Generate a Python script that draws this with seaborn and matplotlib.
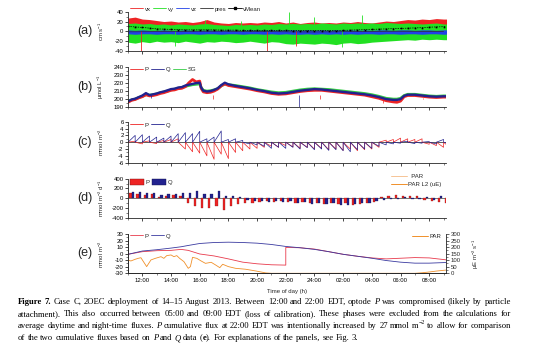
import re
import numpy as np
import matplotlib
matplotlib.use("Agg")
import matplotlib.pyplot as plt
import seaborn as sns
from matplotlib.lines import Line2D
from matplotlib.patches import Patch
from matplotlib.ticker import MultipleLocator, FixedLocator, FixedFormatter

sns.set_theme(style="ticks")
plt.rcParams["font.family"] = ["Liberation Sans", "DejaVu Sans"]
plt.rcParams["mathtext.fontset"] = "custom"
plt.rcParams["mathtext.rm"] = "Liberation Sans"
plt.rcParams["mathtext.it"] = "Liberation Sans:italic"
plt.rcParams["mathtext.bf"] = "Liberation Sans:bold"
plt.rcParams["axes.unicode_minus"] = False
plt.rcParams["axes.linewidth"] = 0.6

# ---------------- data ----------------
time_ticks = [12, 14, 16, 18, 20, 22, 24, 26, 28, 30, 32]
time_labels = ["12:00", "14:00", "16:00", "18:00", "20:00", "22:00",
               "24:00", "02:00", "04:00", "06:00", "08:00"]

# (a) velocity envelopes, half-hourly from 11:00
ta = np.arange(11.0, 33.51, 0.5)
vx_hi = [27, 29, 25, 24, 22, 20, 21, 19, 20, 18, 20, 24, 19, 17, 16, 18, 17, 18, 17, 19,
         18, 20, 17, 19, 16, 18, 19, 17, 18, 17, 19, 18, 20, 18, 17, 19, 21, 20, 22, 24,
         23, 25, 24, 26, 25, 25]
vy_hi = [16, 17, 15, 16, 14, 15, 13, 15, 14, 13, 15, 16, 14, 13, 12, 14, 13, 14, 13, 15,
         14, 16, 15, 16, 15, 16, 15, 17, 16, 15, 17, 16, 17, 16, 17, 16, 18, 17, 16, 17,
         16, 15, 16, 17, 15, 15]
vy_lo = [-22, -24, -21, -23, -20, -22, -21, -23, -20, -22, -24, -21, -22, -20, -21, -23,
         -22, -20, -22, -24, -21, -22, -25, -26, -24, -25, -26, -24, -25, -27, -24, -23,
         -25, -24, -22, -21, -20, -19, -18, -17, -18, -16, -17, -16, -17, -17]
vz_hi = [3, 2, 3, 2, 2, 3, 2, 2, 3, 2, 2, 3, 2, 2, 3, 2, 2, 3, 2, 2, 3, 2, 3, 3, 2, 3,
         2, 3, 2, 3, 2, 3, 2, 3, 2, 3, 3, 2, 3, 3, 2, 3, 3, 2, 3, 3]
vz_lo = [-5, -6, -5, -5, -6, -5, -5, -6, -5, -5, -6, -5, -5, -6, -5, -5, -6, -5, -5, -6,
         -5, -6, -5, -6, -6, -5, -6, -5, -6, -5, -6, -5, -6, -5, -5, -6, -5, -5, -6, -5,
         -5, -6, -5, -5, -6, -5]
vmean = [10, 9, 8, 6.5, 5, 4.5, 4, 3.5, 3, 3, 3, 3, 3, 2.5, 2.5, 2.5, 2, 2, 2, 2, 2, 2,
         2, 1.5, 1.5, 1.5, 1.5, 1.5, 1.5, 1.5, 2, 2.5, 3, 3.5, 4, 4.5, 5, 5.5, 6, 6.5, 7,
         7.5, 8.5, 9, 9.5, 10]
t_pres = np.arange(11.0, 33.1, 1.0)
pres = [-1, -0.8, -0.5, -0.2, 0, 0.2, 0.3, 0.2, 0, -0.3, -0.6, -0.9, -1.1, -1.2, -1,
        -0.7, -0.4, -0.1, 0.1, 0.2, 0.1, -0.2, -0.5]
vy_spike_t = [16.4, 18.9, 22.2, 24.0, 27.3, 14.3, 25.9]
vy_spike_v = [24, 22, 40, 30, 33, -30, -32]
vx_spike_t = [11.9, 20.7, 22.7]
vx_spike_v = [-40, -40, -30]

# (b) oxygen concentration
tb = [11.0, 11.25, 11.5, 11.75, 12.0, 12.25, 12.5, 12.75, 13.0, 13.25,
      13.5, 13.75, 14.0, 14.25, 14.5, 14.75, 15.0, 15.25, 15.5, 15.75,
      16.0, 16.1, 16.25, 16.5, 16.75, 17.0, 17.25, 17.5, 17.75, 18.0,
      18.5, 19.0, 19.5, 20.0, 20.5, 21.0, 21.5, 22.0, 22.5, 23.0,
      23.5, 24.0, 24.5, 25.0, 25.5, 26.0, 26.5, 27.0, 27.5, 28.0,
      28.5, 29.0, 29.5, 29.75, 30.0, 30.25, 30.5, 31.0, 31.5, 32.0,
      32.5, 33.0, 33.5]
Qb = [196.5, 199, 200, 202, 204, 207, 204.5, 205.5, 206.5, 208,
      209, 210.5, 212, 212.5, 214, 214.5, 216.5, 217.5, 218.5, 219.5,
      220, 214, 210, 209, 209.5, 211, 213, 217, 220, 218,
      216, 214.5, 213, 211, 209.5, 207.5, 206.5, 207, 208.5, 210,
      211, 212, 211.5, 210.5, 209.5, 208.5, 207.5, 206.5, 205.5, 204,
      202, 199.5, 198.5, 198.5, 199.5, 203.5, 205, 205, 204, 203,
      202.5, 203, 203]
Pb = [195.5, 198, 199, 201, 202.5, 205, 203.5, 204, 205, 206.5,
      207.5, 209, 210.5, 211, 212.5, 213, 215, 220, 224, 221,
      222, 213, 208.5, 207.5, 208, 209.5, 212, 216, 218.5, 216.5,
      215, 213.5, 212, 210, 208.5, 206.5, 205.5, 206, 207.5, 209,
      210, 210.5, 210.5, 209.5, 208.5, 207.5, 206.5, 205.5, 204.5, 202.5,
      200.5, 197.5, 196, 195.5, 197, 202.5, 204, 204, 203, 202,
      201.5, 202, 202]
SGb = [197, 198.5, 199.5, 201.5, 203, 205, 204.5, 205, 206, 207.5,
       208.5, 209.5, 211, 212, 213, 214, 215.5, 216.5, 217.5, 218,
       218.5, 214, 210.5, 209.5, 210, 211, 212.5, 216, 218.5, 217.5,
       216.5, 215, 213.5, 211.5, 210, 208.5, 207.5, 208, 209.5, 211,
       212, 212.5, 212, 211.5, 210.5, 209.5, 208.5, 207.5, 206.5, 205,
       203, 200.5, 199.5, 199.5, 200.5, 204, 205.5, 205.5, 204.5, 203.5,
       203, 203.5, 203.5]
Pb_spike_t = [16.9, 24.4, 28.8, 31.6, 32.2]
Pb_spike_v = [205, 205, 195, 201, 200]
Qb_spike_t = [22.9, 12.6]
Qb_spike_v = [190, 201]

# (c) flux increments per half-hour interval, (d) flux rates
tc = np.arange(11.0, 33.01, 0.5)
Qc = [2.0, 2.2, 1.8, 1.5, 1.2, 1.8, 2.5, 2.8, 2.5, 3.2,
      1.0, 1.5, 3.3, 0.8, 1.0, 0.5, -0.5, -0.8, -1.2, -1.8,
      -1.5, -1.8, -1.5, -2.0, -1.6, -2.2, -2.0, -2.4, -2.2, -2.5,
      -2.8, -2.2, -2.0, -1.8, -1.2, -0.8, -0.5, -0.3, 0.3, -0.4,
      -0.3, 0.2, -0.5, 0.8, -0.5]
Pc = [0.3, -0.5, 0.4, -0.4, 0.5, 0.8, 1.0, -2.0, -2.8, -3.2,
      -4.0, -5.0, -3.5, -4.8, -3.0, -2.5, -2.0, -1.8, -1.5, -1.2,
      -1.5, -1.0, -1.4, -1.8, -1.5, -2.0, -1.8, -2.2, -2.0, -2.4,
      -2.0, -2.5, -2.2, -2.0, -1.5, 0.6, 0.8, 1.2, 1.0, 0.8,
      1.0, -0.6, -1.0, -1.5, -1.8]
Qd = [120, 130, 100, 110, 60, 80, 90, 100, 110, 150,
      90, 80, 140, 40, 50, 30, -30, -60, -50, -80,
      -60, -80, -60, -100, -80, -110, -90, -120, -100, -130,
      -140, -110, -100, -90, -60, -40, -20, -10, 20, -20,
      -10, 20, -30, 40, -20]
Pd = [110, 90, 60, 80, 30, 50, 70, 40, -100, -150,
      -200, -210, -150, -250, -160, -120, -100, -90, -80, -60,
      -70, -50, -70, -90, -80, -100, -90, -110, -100, -120,
      -100, -130, -110, -100, -70, 30, 40, 60, 50, 40,
      50, -30, -50, -80, -90]

# (e) cumulative fluxes and PAR
te = [11.0, 12.0, 13.0, 14.0, 14.7, 15.2, 16.0, 17.0, 18.0, 19.0, 20.0, 21.0, 22.0,
      22.0, 23.0, 24.0, 25.0, 26.0, 27.0, 28.0, 29.0, 30.0, 31.0, 32.0, 33.2]
Qe = [-1, 4, 6, 8.5, 10.5, 12.5, 15.5, 17, 17.5, 17, 16, 14, 11,
      11, 9, 6.5, 3, -1, -4, -7, -10.5, -13, -14.5, -14.5, -13.5]
Pe = [-1, 3, 4.5, 5, 6.5, 5, -0.5, -3.5, -8, -13, -15.5, -17, -17.5,
      9.5, 9, 7, 3, -1, -4, -6.5, -8, -7, -6, -6.5, -9.5]
tpar = [11.0, 11.2, 11.5, 11.7, 11.9, 12.3, 12.6, 12.9, 13.3, 13.5, 13.7, 14.0, 14.2,
        14.4, 14.6, 14.9, 15.2, 15.35, 15.5, 15.8, 16.1, 16.4, 16.8, 17.1, 17.4, 17.6,
        18.0, 18.5, 19.2, 19.9, 20.6, 21.0, 31.0, 31.5, 32.0, 32.5, 33.2]
par = [102, 94, 107, 114, 119, 51, 102, 114, 127, 114, 135, 140, 127,
       135, 114, 89, 38, 51, 122, 114, 94, 76, 84, 64, 43, 69,
       51, 38, 31, 18, 3, 0, 0, 4, 10, 17, 25]

# ---------------- style ----------------
RED = "#ee2424"
NAVY = "#22228f"
GREEN = "#22e022"
SGGREEN = "#33cc44"
BLUE = "#2040e8"
ORANGE = "#f0902a"
LORANGE = "#f6c496"
TFS = 4.3

W, H = 554, 358
fig = plt.figure(figsize=(W / 100, H / 100), dpi=100)
XL, XR = 128, 446
XLIM = (11.0, 33.17)


def make_ax(ytop, ybot):
    ax = fig.add_axes([XL / W, 1 - ybot / H, (XR - XL) / W, (ybot - ytop) / H])
    ax.set_facecolor("none")
    ax.set_xlim(*XLIM)
    ax.xaxis.set_major_locator(FixedLocator(time_ticks))
    ax.xaxis.set_minor_locator(MultipleLocator(1))
    ax.tick_params(which="major", direction="out", length=2.2, width=0.5, pad=1,
                   labelsize=TFS, colors="black")
    ax.tick_params(which="minor", direction="out", length=1.2, width=0.4)
    ax.tick_params(axis="x", labelbottom=False)
    sns.despine(ax=ax)
    return ax


def panel_label(ax, s, yc):
    fig.text(85 / W, 1 - yc / H, s, fontsize=9, ha="center", va="center")


def ylab(ax, s):
    ax.set_ylabel(s, fontsize=TFS, labelpad=0)
    ax.yaxis.set_label_coords(-0.069, 0.5)


def leg(ax, handles, labels, y, x=0.005, **kw):
    opts = dict(loc="center left", bbox_to_anchor=(x, y), frameon=False, fontsize=TFS,
                ncol=len(handles), handlelength=2.2, handletextpad=0.3,
                columnspacing=0.4, borderpad=0, borderaxespad=0)
    opts.update(kw)
    return ax.legend(handles, labels, **opts)


def line(ax, x, y, color, lw, **kw):
    sns.lineplot(x=x, y=y, ax=ax, color=color, linewidth=lw, estimator=None,
                 sort=False, legend=False, **kw)


# ---------------- (a) ----------------
ax = make_ax(11.7, 51)
ax.fill_between(ta, 0, vx_hi, color=RED, lw=0)
ax.fill_between(ta, vy_lo, vy_hi, color=GREEN, lw=0)
ax.vlines(vx_spike_t, 0, vx_spike_v, color=RED, lw=0.6)
ax.vlines(vy_spike_t, 0, vy_spike_v, color=GREEN, lw=0.6)
ax.fill_between(ta, vz_lo, vz_hi, color=BLUE, lw=0)
line(ax, t_pres, pres, "#303030", 0.5)
line(ax, ta, vmean, "black", 0.5, marker="s", markersize=1.2, markeredgewidth=0,
     linestyle=(0, (2, 1.5)))
ax.set_ylim(-40, 40)
ax.yaxis.set_major_locator(MultipleLocator(20))
ax.yaxis.set_minor_locator(MultipleLocator(10))
ylab(ax, "cm s$^{-1}$")
panel_label(ax, "(a)", 31)
leg(ax, [Line2D([], [], color=RED, lw=0.6), Line2D([], [], color=GREEN, lw=0.6),
         Line2D([], [], color=BLUE, lw=0.6), Line2D([], [], color="#303030", lw=0.6),
         Line2D([], [], color="black", lw=0.6, marker="s", markersize=1.5)],
    ["vx", "vy", "vz", "pres", "vMean"], 1.07)

# ---------------- (b) ----------------
ax = make_ax(66.7, 106.7)
line(ax, tb, SGb, SGGREEN, 2.0)
line(ax, tb, Pb, RED, 2.0)
ax.vlines(Pb_spike_t, 200, Pb_spike_v, color=RED, lw=0.5)
line(ax, tb, Qb, NAVY, 1.7)
ax.vlines(Qb_spike_t, 205, Qb_spike_v, color=NAVY, lw=0.5)
ax.set_ylim(190, 240)
ax.yaxis.set_major_locator(MultipleLocator(10))
ax.yaxis.set_minor_locator(MultipleLocator(5))
ylab(ax, "µmol L$^{-1}$")
panel_label(ax, "(b)", 87)
leg(ax, [Line2D([], [], color=RED, lw=0.6), Line2D([], [], color=NAVY, lw=0.6),
         Line2D([], [], color=SGGREEN, lw=0.6)], ["P", "Q", "SG"], 0.935)

# ---------------- (c) ----------------
ax = make_ax(121.7, 162.7)
ax.axhline(0, color="#404040", lw=0.6, zorder=1)
for vals, col in ((Pc, RED), (Qc, NAVY)):
    xs, ys = [], []
    for t0, v in zip(tc, vals):
        xs += [t0, t0 + 0.5]
        ys += [0, v]
    line(ax, xs, ys, col, 0.5)
ax.set_ylim(-6, 6)
ax.yaxis.set_major_locator(MultipleLocator(2))
ax.yaxis.set_minor_locator(MultipleLocator(1))
ylab(ax, "mmol m$^{-2}$")
panel_label(ax, "(c)", 142)
leg(ax, [Line2D([], [], color=RED, lw=0.6), Line2D([], [], color=NAVY, lw=0.6)],
    ["P", "Q"], 0.92)

# ---------------- (d) ----------------
ax = make_ax(178.7, 217.7)
ax.bar(tc + 0.17, Pd, width=0.16, color=RED, edgecolor="#7a1010", lw=0.2)
ax.bar(tc + 0.33, Qd, width=0.16, color=NAVY, edgecolor="#10104a", lw=0.2)
ax.axhline(0, color="#404040", lw=0.5, zorder=0)
ax.set_ylim(-400, 400)
ax.yaxis.set_major_locator(MultipleLocator(200))
ax.yaxis.set_minor_locator(MultipleLocator(100))
ylab(ax, "mmol m$^{-2}$ d$^{-1}$")
panel_label(ax, "(d)", 198)
l1 = leg(ax, [Patch(facecolor=RED, edgecolor="#7a1010", lw=0.3),
              Patch(facecolor=NAVY, edgecolor="#10104a", lw=0.3)],
         ["P", "Q"], 0.92, handlelength=2.4, handleheight=1.1)
ax.add_artist(l1)
ax.legend([Line2D([], [], color=LORANGE, lw=0.7), Line2D([], [], color=ORANGE, lw=0.7)],
          ["  PAR", "PAR L2 (uE)"], loc="upper right", bbox_to_anchor=(0.985, 1.12),
          frameon=False, fontsize=TFS, handlelength=2.6, handletextpad=0.2,
          borderpad=0, borderaxespad=0, labelspacing=0.4)

# ---------------- (e) ----------------
ax = make_ax(234, 273.3)
ax.tick_params(axis="x", labelbottom=True, pad=1.5)
ax.xaxis.set_major_formatter(FixedFormatter(time_labels))
ax2 = ax.twinx()
ax2.set_xlim(*XLIM)
line(ax2, tpar, par, ORANGE, 0.6)
ax2.set_ylim(0, 300)
ax2.yaxis.set_major_locator(MultipleLocator(50))
ax2.yaxis.set_minor_locator(MultipleLocator(25))
ax2.tick_params(which="major", direction="out", length=2.2, width=0.5, pad=1,
                labelsize=TFS)
ax2.tick_params(which="minor", direction="out", length=1.2, width=0.4)
ax2.spines["top"].set_visible(False)
ax2.set_ylabel("µE m$^{-2}$ s$^{-1}$", fontsize=TFS, labelpad=0)
ax2.yaxis.set_label_coords(1.078, 0.5)
ax2.legend([Line2D([], [], color=ORANGE, lw=0.7)], ["PAR"], loc="upper right",
           bbox_to_anchor=(0.985, 1.0), frameon=False, fontsize=TFS, handlelength=2.6,
           handletextpad=0.3, borderpad=0, borderaxespad=0)
line(ax, te, Pe, "#e83a4c", 0.6)
line(ax, te, Qe, "#3a3aa0", 0.6)
ax.set_ylim(-30, 30)
ax.yaxis.set_major_locator(MultipleLocator(10))
ax.yaxis.set_minor_locator(MultipleLocator(5))
ylab(ax, "mmol m$^{-2}$")
panel_label(ax, "(e)", 253)
leg(ax, [Line2D([], [], color="#e83a4c", lw=0.6), Line2D([], [], color="#3a3aa0", lw=0.6)],
    ["P", "Q"], 0.95)
fig.text(287 / W, 1 - 291.7 / H, "Time of day (h)", fontsize=TFS, ha="center",
         va="center")

# ---------------- caption ----------------
caption_lines = [
    "{b:Figure} {b:7.} Case C, 2OEC deployment of 14–15 August 2013. Between 12:00 and "
    "22:00 EDT, optode {i:P} was compromised (likely by particle",
    "attachment). This also occurred between 05:00 and 09:00 EDT (loss of calibration). "
    "These phases were excluded from the calculations for",
    "average daytime and night-time fluxes. {i:P} cumulative flux at 22:00 EDT was "
    "intentionally increased by 27 mmol m{s:−2} to allow for comparison",
    "of the two cumulative fluxes based on {i:P} and {i:Q} data ({b:e}). For explanations "
    "of the panels, see Fig. 3.",
]
caption_base = [304.0, 316.0, 328.0, 340.0]
renderer = fig.canvas.get_renderer()
X0, X1 = 18, 511


def parse_words(s):
    words = []
    for w in s.split(" "):
        segs, pos = [], 0
        for m in re.finditer(r"\{([bis]):([^}]*)\}", w):
            if m.start() > pos:
                segs.append((w[pos:m.start()], "n"))
            segs.append((m.group(2), m.group(1)))
            pos = m.end()
        if pos < len(w):
            segs.append((w[pos:], "n"))
        words.append(segs)
    return words


def build_line(s, fs):
    rows = []
    for segs in parse_words(s):
        row = []
        for txt, st in segs:
            kw = dict(fontsize=fs, family="Liberation Serif", va="baseline", ha="left",
                      color="black")
            dy = 0
            if st == "b":
                kw["weight"] = "bold"
            elif st == "i":
                kw["style"] = "italic"
            elif st == "s":
                kw["fontsize"] = fs * 0.7
                dy = fs * 0.42 * 100 / 72
            t = fig.text(0, 0, txt, **kw)
            row.append((t, t.get_window_extent(renderer).width, dy))
        rows.append(row)
    return rows


def space_width(fs):
    a = fig.text(0, 0, "n n", fontsize=fs, family="Liberation Serif")
    b = fig.text(0, 0, "nn", fontsize=fs, family="Liberation Serif")
    w = a.get_window_extent(renderer).width - b.get_window_extent(renderer).width
    a.remove()
    b.remove()
    return w


# choose the caption size so that the justified lines fit with normal word spacing
trial = 7.0
natural = []
for s in caption_lines[:3]:
    rows = build_line(s, trial)
    total = sum(w for r in rows for _, w, _ in r) + space_width(trial) * (len(rows) - 1)
    natural.append(total)
    for r in rows:
        for t, _, _ in r:
            t.remove()
CFS = trial * (X1 - X0) / max(natural) * 0.998
SP = space_width(CFS)

for i, (s, yb) in enumerate(zip(caption_lines, caption_base)):
    rows = build_line(s, CFS)
    total = sum(w for r in rows for _, w, _ in r)
    gap = (X1 - X0 - total) / (len(rows) - 1) if i < 3 else SP
    x = X0
    for r in rows:
        for t, w, dy in r:
            t.set_position((x / W, 1 - (yb - dy) / H))
            x += w
        x += gap

fig.savefig("out.png", dpi=100)
